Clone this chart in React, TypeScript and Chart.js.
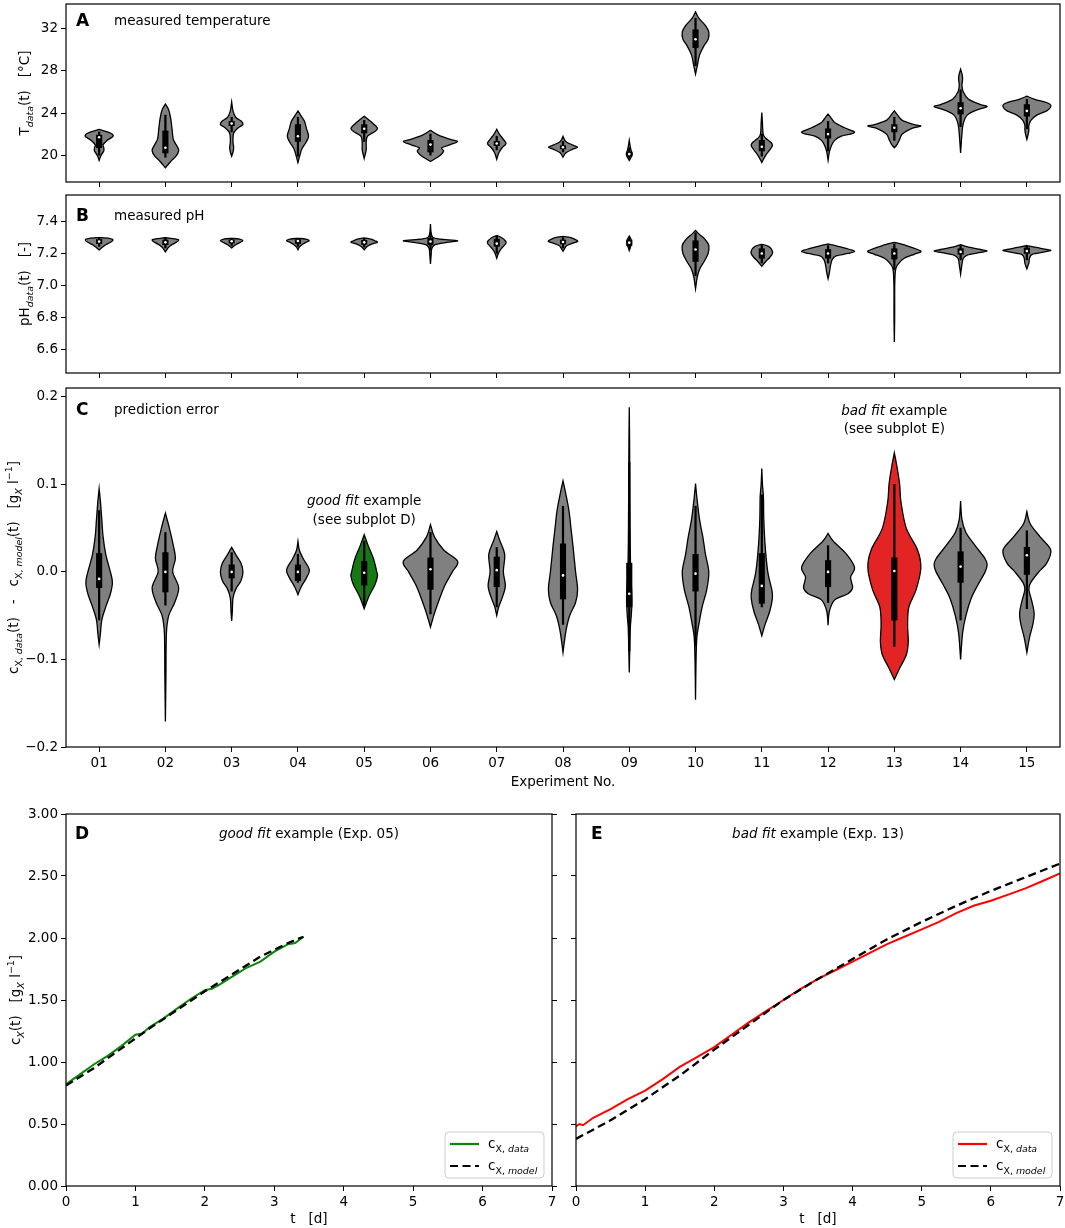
import { useEffect, useRef } from "react"
import { Chart, registerables } from "chart.js"

Chart.register(...registerables)

const FONT = '"DejaVu Sans", sans-serif'
Chart.defaults.font.family = FONT
Chart.defaults.font.size = 13.5
Chart.defaults.color = "#000"

const experiments = ["01", "02", "03", "04", "05", "06", "07", "08", "09", "10", "11", "12", "13", "14", "15"]

// panel A: measured temperature
const tempTicks = [20, 24, 28, 32]
const tempLo = [20.0, 19.8, 22.2, 19.9, 21.3, 20.0, 20.5, 20.3, 19.7, 28.5, 19.9, 20.4, 21.4, 22.7, 22.5]
const tempQ1 = [20.7, 20.2, 22.8, 21.3, 22.1, 20.3, 20.9, 20.6, 19.9, 30.2, 20.4, 21.6, 22.2, 23.9, 23.7]
const tempMed = [21.7, 20.7, 23.0, 21.8, 22.5, 21.0, 21.1, 20.75, 20.1, 31.0, 20.8, 22.0, 22.6, 24.45, 24.2]
const tempQ3 = [21.9, 22.3, 23.2, 22.9, 22.9, 21.4, 21.3, 20.9, 20.3, 31.9, 21.4, 22.5, 22.9, 25.0, 24.8]
const tempHi = [22.2, 23.8, 23.6, 23.6, 23.3, 22.0, 21.8, 21.3, 20.7, 33.0, 22.0, 23.2, 23.6, 26.2, 25.3]
// violin outlines: [value, half width in category units], top to bottom
const tempShapes = [
  [[22.45, 0], [22.1, 0.17], [21.8, 0.21], [21.4, 0.12], [21.0, 0.06], [20.7, 0.07], [20.4, 0.07], [20.0, 0.03], [19.5, 0]],
  [[24.85, 0], [24.3, 0.05], [23.5, 0.08], [22.5, 0.1], [21.5, 0.12], [20.8, 0.18], [20.4, 0.2], [19.9, 0.16], [19.4, 0.08], [18.8, 0]],
  [[25.05, 0], [24.2, 0.02], [23.6, 0.06], [23.2, 0.15], [22.9, 0.17], [22.6, 0.1], [22.1, 0.03], [21.3, 0.02], [20.7, 0.03], [20.3, 0.02], [19.9, 0]],
  [[24.2, 0], [23.7, 0.05], [23.2, 0.1], [22.5, 0.13], [21.8, 0.16], [21.2, 0.12], [20.6, 0.06], [20.0, 0.03], [19.3, 0]],
  [[23.7, 0], [23.3, 0.08], [22.8, 0.17], [22.5, 0.2], [22.2, 0.15], [21.8, 0.05], [21.2, 0.03], [20.5, 0.03], [19.7, 0]],
  [[22.35, 0], [21.9, 0.12], [21.5, 0.3], [21.3, 0.41], [21.0, 0.3], [20.7, 0.17], [20.4, 0.2], [20.0, 0.15], [19.4, 0]],
  [[22.45, 0], [22.0, 0.04], [21.5, 0.1], [21.1, 0.14], [20.7, 0.08], [20.2, 0.03], [19.6, 0]],
  [[21.8, 0], [21.3, 0.04], [20.95, 0.15], [20.75, 0.22], [20.55, 0.14], [20.2, 0.04], [19.8, 0]],
  [[21.4, 0], [20.8, 0.015], [20.4, 0.03], [20.15, 0.045], [19.9, 0.035], [19.5, 0]],
  [[33.6, 0], [33.0, 0.05], [32.3, 0.15], [31.7, 0.2], [31.0, 0.19], [30.3, 0.12], [29.5, 0.06], [28.6, 0.03], [27.7, 0]],
  [[24.05, 0], [23.0, 0.01], [22.0, 0.02], [21.6, 0.06], [21.2, 0.14], [20.9, 0.16], [20.5, 0.12], [20.0, 0.06], [19.3, 0]],
  [[23.9, 0], [23.5, 0.05], [23.1, 0.1], [22.6, 0.25], [22.15, 0.4], [21.8, 0.2], [21.4, 0.1], [20.9, 0.05], [20.3, 0.02], [19.5, 0]],
  [[24.2, 0], [23.8, 0.05], [23.3, 0.12], [22.9, 0.3], [22.75, 0.4], [22.5, 0.25], [22.0, 0.12], [21.5, 0.08], [21.0, 0.04], [20.7, 0]],
  [[28.15, 0], [27.6, 0.025], [27.2, 0.03], [26.6, 0.02], [26.0, 0.04], [25.3, 0.12], [24.8, 0.3], [24.6, 0.4], [24.3, 0.25], [23.8, 0.1], [23.0, 0.04], [22.0, 0.02], [20.2, 0]],
  [[25.6, 0], [25.3, 0.12], [24.9, 0.33], [24.6, 0.36], [24.2, 0.3], [23.8, 0.15], [23.3, 0.06], [22.8, 0.03], [22.4, 0.03], [22.0, 0.02], [21.5, 0]],
]

// panel B: measured pH
const phTicks = [6.6, 6.8, 7.0, 7.2, 7.4]
const phLo = [7.245, 7.235, 7.25, 7.245, 7.24, 7.22, 7.2, 7.235, 7.23, 7.06, 7.14, 7.14, 7.1, 7.16, 7.16]
const phQ1 = [7.262, 7.255, 7.265, 7.263, 7.257, 7.255, 7.245, 7.26, 7.25, 7.15, 7.17, 7.17, 7.165, 7.195, 7.2]
const phMed = [7.275, 7.27, 7.277, 7.278, 7.27, 7.275, 7.262, 7.272, 7.268, 7.225, 7.2, 7.2, 7.2, 7.21, 7.215]
const phQ3 = [7.288, 7.285, 7.285, 7.287, 7.283, 7.295, 7.29, 7.285, 7.285, 7.28, 7.23, 7.225, 7.23, 7.23, 7.235]
const phHi = [7.298, 7.298, 7.293, 7.293, 7.295, 7.33, 7.31, 7.3, 7.3, 7.33, 7.25, 7.25, 7.26, 7.25, 7.245]
const phShapes = [
  [[7.3, 0], [7.295, 0.15], [7.285, 0.21], [7.27, 0.17], [7.255, 0.1], [7.24, 0.05], [7.222, 0]],
  [[7.3, 0], [7.29, 0.16], [7.282, 0.2], [7.265, 0.14], [7.25, 0.08], [7.235, 0.04], [7.21, 0]],
  [[7.295, 0], [7.29, 0.12], [7.28, 0.17], [7.27, 0.13], [7.255, 0.06], [7.235, 0]],
  [[7.295, 0], [7.29, 0.12], [7.28, 0.17], [7.27, 0.12], [7.255, 0.06], [7.24, 0.02], [7.223, 0]],
  [[7.298, 0], [7.29, 0.1], [7.28, 0.16], [7.27, 0.2], [7.26, 0.12], [7.245, 0.05], [7.223, 0]],
  [[7.385, 0], [7.33, 0.01], [7.3, 0.04], [7.29, 0.15], [7.28, 0.41], [7.27, 0.25], [7.255, 0.07], [7.23, 0.02], [7.19, 0.01], [7.135, 0]],
  [[7.312, 0], [7.3, 0.07], [7.28, 0.13], [7.265, 0.14], [7.245, 0.1], [7.22, 0.05], [7.195, 0.02], [7.17, 0]],
  [[7.307, 0], [7.3, 0.12], [7.285, 0.2], [7.275, 0.22], [7.265, 0.15], [7.25, 0.06], [7.235, 0.03], [7.214, 0]],
  [[7.309, 0], [7.29, 0.025], [7.27, 0.035], [7.25, 0.025], [7.218, 0]],
  [[7.345, 0], [7.32, 0.06], [7.29, 0.14], [7.25, 0.2], [7.2, 0.19], [7.15, 0.13], [7.1, 0.06], [7.05, 0.025], [6.978, 0]],
  [[7.257, 0], [7.245, 0.1], [7.225, 0.15], [7.2, 0.16], [7.175, 0.12], [7.15, 0.06], [7.12, 0]],
  [[7.26, 0], [7.245, 0.15], [7.225, 0.33], [7.212, 0.4], [7.2, 0.3], [7.185, 0.12], [7.16, 0.06], [7.12, 0.035], [7.08, 0.02], [7.042, 0]],
  [[7.27, 0], [7.25, 0.18], [7.225, 0.35], [7.21, 0.4], [7.195, 0.3], [7.17, 0.15], [7.14, 0.07], [7.1, 0.02], [7.0, 0.006], [6.8, 0.005], [6.644, 0]],
  [[7.255, 0], [7.24, 0.12], [7.225, 0.3], [7.215, 0.4], [7.205, 0.28], [7.19, 0.1], [7.17, 0.04], [7.13, 0.02], [7.07, 0]],
  [[7.25, 0], [7.238, 0.14], [7.225, 0.3], [7.218, 0.36], [7.208, 0.25], [7.195, 0.08], [7.17, 0.04], [7.14, 0.03], [7.104, 0]],
]

// panel C: prediction error
const errTicks = [-0.2, -0.1, 0.0, 0.1, 0.2]
const errLo = [-0.055, -0.038, -0.022, -0.012, -0.038, -0.048, -0.04, -0.06, -0.09, -0.085, -0.04, -0.035, -0.085, -0.055, -0.042]
const errQ1 = [-0.018, -0.023, -0.007, -0.01, -0.015, -0.02, -0.017, -0.031, -0.04, -0.022, -0.036, -0.017, -0.055, -0.012, -0.003]
const errMed = [-0.008, 0.0, 0.0, 0.0, -0.001, 0.003, 0.002, -0.004, -0.025, -0.002, -0.016, 0.0, 0.001, 0.006, 0.019]
const errQ3 = [0.021, 0.022, 0.008, 0.008, 0.012, 0.016, 0.017, 0.032, 0.01, 0.02, 0.021, 0.013, 0.016, 0.023, 0.028]
const errHi = [0.07, 0.045, 0.022, 0.02, 0.035, 0.045, 0.028, 0.075, 0.125, 0.075, 0.088, 0.03, 0.1, 0.05, 0.047]
const errShapes = [
  [[0.095, 0], [0.08, 0.02], [0.06, 0.04], [0.04, 0.06], [0.02, 0.1], [0.0, 0.17], [-0.012, 0.2], [-0.025, 0.17], [-0.04, 0.1], [-0.055, 0.04], [-0.07, 0.02], [-0.083, 0]],
  [[0.067, 0], [0.05, 0.06], [0.03, 0.12], [0.015, 0.15], [0.0, 0.11], [-0.018, 0.2], [-0.035, 0.14], [-0.05, 0.05], [-0.07, 0.015], [-0.12, 0.008], [-0.171, 0]],
  [[0.028, 0], [0.02, 0.06], [0.01, 0.14], [0.0, 0.17], [-0.01, 0.14], [-0.02, 0.06], [-0.03, 0.02], [-0.045, 0.01], [-0.056, 0]],
  [[0.035, 0], [0.025, 0.02], [0.015, 0.08], [0.005, 0.16], [0.0, 0.17], [-0.008, 0.12], [-0.017, 0.05], [-0.026, 0]],
  [[0.0425, 0], [0.03, 0.06], [0.015, 0.14], [0.0, 0.19], [-0.005, 0.2], [-0.015, 0.16], [-0.028, 0.07], [-0.042, 0]],
  [[0.054, 0], [0.04, 0.06], [0.025, 0.2], [0.012, 0.41], [0.0, 0.33], [-0.015, 0.22], [-0.03, 0.14], [-0.045, 0.07], [-0.055, 0.03], [-0.063, 0]],
  [[0.046, 0], [0.035, 0.05], [0.02, 0.12], [0.0, 0.1], [-0.016, 0.13], [-0.03, 0.08], [-0.04, 0.03], [-0.05, 0]],
  [[0.104, 0], [0.09, 0.04], [0.07, 0.09], [0.05, 0.12], [0.03, 0.15], [0.0, 0.19], [-0.02, 0.22], [-0.035, 0.19], [-0.05, 0.1], [-0.065, 0.05], [-0.08, 0.02], [-0.092, 0]],
  [[0.188, 0], [0.15, 0.005], [0.1, 0.008], [0.05, 0.012], [0.0, 0.02], [-0.02, 0.035], [-0.035, 0.04], [-0.05, 0.03], [-0.065, 0.015], [-0.09, 0.007], [-0.115, 0]],
  [[0.101, 0], [0.085, 0.02], [0.06, 0.06], [0.04, 0.11], [0.02, 0.15], [0.0, 0.2], [-0.02, 0.17], [-0.04, 0.1], [-0.06, 0.05], [-0.075, 0.02], [-0.1, 0.008], [-0.146, 0]],
  [[0.118, 0], [0.1, 0.01], [0.085, 0.025], [0.06, 0.03], [0.03, 0.05], [0.0, 0.09], [-0.02, 0.15], [-0.03, 0.16], [-0.045, 0.12], [-0.06, 0.05], [-0.073, 0]],
  [[0.044, 0], [0.035, 0.08], [0.02, 0.28], [0.005, 0.4], [-0.006, 0.34], [-0.018, 0.37], [-0.025, 0.3], [-0.032, 0.1], [-0.045, 0.02], [-0.061, 0]],
  [[0.136, 0], [0.12, 0.04], [0.1, 0.08], [0.08, 0.1], [0.05, 0.18], [0.025, 0.35], [0.005, 0.4], [-0.02, 0.33], [-0.04, 0.22], [-0.06, 0.2], [-0.08, 0.21], [-0.095, 0.18], [-0.11, 0.08], [-0.123, 0]],
  [[0.081, 0], [0.06, 0.02], [0.045, 0.08], [0.03, 0.22], [0.015, 0.37], [0.008, 0.4], [0.0, 0.37], [-0.015, 0.26], [-0.03, 0.16], [-0.05, 0.08], [-0.07, 0.03], [-0.1, 0]],
  [[0.069, 0], [0.055, 0.05], [0.04, 0.2], [0.025, 0.36], [0.01, 0.3], [0.0, 0.18], [-0.012, 0.06], [-0.02, 0.03], [-0.035, 0.08], [-0.048, 0.11], [-0.06, 0.09], [-0.075, 0.04], [-0.092, 0]],
]
const goodFitIndex = 4
const badFitIndex = 12

// panels D and E: growth curves
const dayTicks = [0, 1, 2, 3, 4, 5, 6, 7]
const concTicks = [0, 0.5, 1, 1.5, 2, 2.5, 3]
const goodT = [0, 0.2, 0.4, 0.6, 0.8, 1.0, 1.1, 1.2, 1.4, 1.6, 1.8, 2.0, 2.1, 2.2, 2.4, 2.6, 2.8, 3.0, 3.2, 3.3, 3.42]
const goodData = [0.82, 0.9, 0.98, 1.05, 1.13, 1.22, 1.23, 1.28, 1.35, 1.43, 1.51, 1.58, 1.59, 1.62, 1.69, 1.76, 1.81, 1.89, 1.95, 1.96, 2.01]
const goodModelT = [0, 0.4, 0.8, 1.2, 1.6, 2.0, 2.4, 2.8, 3.2, 3.42]
const goodModel = [0.81, 0.95, 1.11, 1.27, 1.42, 1.57, 1.71, 1.85, 1.96, 2.01]
const badT = [0, 0.05, 0.1, 0.25, 0.5, 0.75, 1.0, 1.25, 1.5, 1.75, 2.0, 2.25, 2.5, 2.75, 3.0, 3.25, 3.5, 3.75, 4.0, 4.25, 4.5, 4.75, 5.0, 5.25, 5.5, 5.75, 6.0, 6.25, 6.5, 6.75, 7.0]
const badData = [0.48, 0.5, 0.49, 0.55, 0.62, 0.7, 0.77, 0.86, 0.96, 1.04, 1.12, 1.22, 1.32, 1.41, 1.5, 1.59, 1.67, 1.74, 1.81, 1.88, 1.95, 2.01, 2.07, 2.13, 2.2, 2.26, 2.3, 2.35, 2.4, 2.46, 2.52]
const badModelT = [0, 0.5, 1.0, 1.5, 2.0, 2.5, 3.0, 3.5, 4.0, 4.5, 5.0, 5.5, 6.0, 6.5, 7.0]
const badModel = [0.38, 0.53, 0.7, 0.89, 1.1, 1.3, 1.5, 1.67, 1.83, 1.99, 2.13, 2.26, 2.38, 2.49, 2.6]

const GRAY = "#808080"
const GREEN_FILL = "#157a15"
const RED_FILL = "#e32424"
const GREEN_LINE = "#0a870a"
const RED_LINE = "#ff0000"

type Seg = { t: string; sub?: boolean; sup?: boolean; it?: boolean; b?: boolean }

function richText(ctx: CanvasRenderingContext2D, segs: Seg[], x: number, y: number, size: number, align: "left" | "center", rotate = false) {
  const fontOf = (s: Seg) => `${s.it ? "italic " : ""}${s.b ? "bold " : ""}${s.sub || s.sup ? size * 0.7 : size}px ${FONT}`
  ctx.save()
  ctx.translate(x, y)
  if (rotate) ctx.rotate(-Math.PI / 2)
  ctx.textAlign = "left"
  ctx.textBaseline = "alphabetic"
  ctx.fillStyle = "#000"
  let total = 0
  segs.forEach((s) => {
    ctx.font = fontOf(s)
    total += ctx.measureText(s.t).width
  })
  let cx = align === "center" ? -total / 2 : 0
  segs.forEach((s) => {
    ctx.font = fontOf(s)
    const dy = s.sub ? size * 0.28 : s.sup ? -size * 0.42 : 0
    ctx.fillText(s.t, cx, size * 0.36 + dy)
    cx += ctx.measureText(s.t).width
  })
  ctx.restore()
}

// smooth one side of a violin (offsets >= 0 from centre)
function side(ctx: CanvasRenderingContext2D, pts: number[][], cx: number, sign: number) {
  const X = (o: number) => cx + sign * Math.max(0, o)
  for (let i = 0; i < pts.length - 1; i++) {
    const p0 = pts[Math.max(i - 1, 0)]
    const p1 = pts[i]
    const p2 = pts[i + 1]
    const p3 = pts[Math.min(i + 2, pts.length - 1)]
    ctx.bezierCurveTo(
      X(p1[0] + (p2[0] - p0[0]) / 6), p1[1] + (p2[1] - p0[1]) / 6,
      X(p2[0] - (p3[0] - p1[0]) / 6), p2[1] - (p3[1] - p1[1]) / 6,
      X(p2[0]), p2[1],
    )
  }
}

type PanelText = {
  label: string
  labelDx: number
  labelDy: number
  caption?: Seg[]
  title?: Seg[]
  yTitle?: Seg[]
  yTitleX?: number
  notes?: { i: number; v: number; segs: Seg[] }[]
  legendColor?: string
}

function decorPlugin(p: PanelText) {
  return {
    id: "decor",
    afterDraw(chart: any) {
      const { ctx, chartArea: a, scales } = chart
      ctx.save()
      ctx.strokeStyle = "#000"
      ctx.lineWidth = 1.2
      ctx.strokeRect(a.left, a.top, a.right - a.left, a.bottom - a.top)
      ctx.restore()
      richText(ctx, [{ t: p.label, b: true }], a.left + p.labelDx, a.top + p.labelDy, 17, "left")
      if (p.caption) richText(ctx, p.caption, a.left + 48, a.top + p.labelDy, 13.5, "left")
      if (p.title) richText(ctx, p.title, (a.left + a.right) / 2, a.top + p.labelDy, 13.5, "center")
      if (p.yTitle) richText(ctx, p.yTitle, p.yTitleX!, (a.top + a.bottom) / 2, 13.5, "center", true)
      ;(p.notes || []).forEach((n) => {
        richText(ctx, n.segs, scales.x.getPixelForValue(n.i), scales.y.getPixelForValue(n.v), 13.5, "center")
      })
      if (p.legendColor) {
        const w = 99
        const h = 46
        const x0 = a.right - 8 - w
        const y0 = a.bottom - 8 - h
        ctx.save()
        ctx.beginPath()
        ctx.roundRect(x0, y0, w, h, 4)
        ctx.fillStyle = "rgba(255,255,255,0.8)"
        ctx.fill()
        ctx.strokeStyle = "#cccccc"
        ctx.lineWidth = 1
        ctx.stroke()
        ctx.lineWidth = 2.2
        ctx.beginPath()
        ctx.moveTo(x0 + 5, y0 + 12)
        ctx.lineTo(x0 + 34, y0 + 12)
        ctx.strokeStyle = p.legendColor
        ctx.stroke()
        ctx.beginPath()
        ctx.setLineDash([8, 4.5])
        ctx.moveTo(x0 + 5, y0 + 34)
        ctx.lineTo(x0 + 34, y0 + 34)
        ctx.strokeStyle = "#000"
        ctx.stroke()
        ctx.restore()
        richText(ctx, [{ t: "c" }, { t: "X, ", sub: true }, { t: "data", sub: true, it: true }], x0 + 43, y0 + 11, 13.5, "left")
        richText(ctx, [{ t: "c" }, { t: "X, ", sub: true }, { t: "model", sub: true, it: true }], x0 + 43, y0 + 33, 13.5, "left")
      }
    },
  }
}

function violinPlugin(shapes: number[][][], fills: string[]) {
  return {
    id: "violins",
    beforeDatasetsDraw(chart: any) {
      const { ctx, scales } = chart
      const { x, y } = scales
      const unit = x.getPixelForValue(1) - x.getPixelForValue(0)
      ctx.save()
      shapes.forEach((shape, i) => {
        const cx = x.getPixelForValue(i)
        const pts = shape.map(([v, w]) => [w * unit, y.getPixelForValue(v)])
        const back = pts.slice().reverse()
        ctx.beginPath()
        ctx.moveTo(cx, pts[0][1])
        side(ctx, pts, cx, 1)
        side(ctx, back, cx, -1)
        ctx.closePath()
        ctx.fillStyle = fills[i]
        ctx.fill()
        ctx.lineWidth = 1.3
        ctx.strokeStyle = "#000"
        ctx.stroke()
      })
      ctx.restore()
    },
  }
}

const tickGrid = { display: true, drawOnChartArea: false, drawTicks: true, tickLength: 5, color: "#000", lineWidth: 1, offset: false }

// keep Chart.js from reserving extra room for the end labels
const noPad = (s: any) => {
  s.paddingTop = 0
  s.paddingBottom = 0
  s.paddingLeft = 0
  s.paddingRight = 0
}

function violinChart(
  canvas: HTMLCanvasElement,
  p: {
    shapes: number[][][]
    lo: number[]
    q1: number[]
    med: number[]
    q3: number[]
    hi: number[]
    fills: string[]
    min: number
    max: number
    ticks: number[]
    fmt: (v: number) => string
    showX: boolean
    xHeight: number
    text: PanelText
  },
) {
  return new Chart(canvas, {
    type: "bar",
    data: {
      labels: experiments,
      datasets: [
        { type: "line", data: p.med, showLine: false, pointRadius: 1.3, pointBackgroundColor: "#fff", pointBorderWidth: 0, order: 0 } as any,
        { type: "bar", data: p.q1.map((v, i) => [v, p.q3[i]]), backgroundColor: "#000", barThickness: 5.5, grouped: false, borderWidth: 0, order: 1 } as any,
        { type: "bar", data: p.lo.map((v, i) => [v, p.hi[i]]), backgroundColor: "#000", barThickness: 1.6, grouped: false, borderWidth: 0, order: 2 } as any,
      ],
    },
    options: {
      responsive: false,
      animation: false,
      events: [],
      layout: { padding: { top: 2, right: 5, left: 0, bottom: 0 } },
      plugins: { legend: { display: false }, tooltip: { enabled: false } },
      scales: {
        x: {
          type: "category",
          offset: true,
          grid: tickGrid,
          border: { display: false },
          ticks: { display: p.showX, autoSkip: false, maxRotation: 0, padding: 3 },
          title: { display: p.showX, text: "Experiment No.", padding: { top: 0, bottom: 0 } },
          afterFit: (s: any) => {
            s.height = p.xHeight
            noPad(s)
          },
        },
        y: {
          type: "linear",
          min: p.min,
          max: p.max,
          grid: tickGrid,
          border: { display: false },
          afterBuildTicks: (s: any) => {
            s.ticks = p.ticks.map((v) => ({ value: v }))
          },
          ticks: { padding: 3, callback: (v: any) => p.fmt(Number(v)) },
          afterFit: (s: any) => {
            s.width = 66
            noPad(s)
          },
        },
      },
    } as any,
    plugins: [violinPlugin(p.shapes, p.fills), decorPlugin(p.text)],
  })
}

function lineChart(
  canvas: HTMLCanvasElement,
  p: {
    t: number[]
    data: number[]
    modelT: number[]
    model: number[]
    color: string
    showY: boolean
    yWidth: number
    rightAxis: boolean
    padRight: number
    text: PanelText
  },
) {
  const yTicks = (s: any) => {
    s.ticks = concTicks.map((v) => ({ value: v }))
  }
  const scales: any = {
    x: {
      type: "linear",
      min: 0,
      max: 7,
      grid: tickGrid,
      border: { display: false },
      afterBuildTicks: (s: any) => {
        s.ticks = dayTicks.map((v) => ({ value: v }))
      },
      ticks: { padding: 3, maxRotation: 0, callback: (v: any) => String(v) },
      title: { display: true, text: "t   [d]", padding: { top: 0, bottom: 0 } },
      afterFit: (s: any) => {
        s.height = 42
        noPad(s)
      },
    },
    y: {
      type: "linear",
      min: 0,
      max: 3,
      grid: tickGrid,
      border: { display: false },
      afterBuildTicks: yTicks,
      ticks: { display: p.showY, padding: 3, callback: (v: any) => Number(v).toFixed(2) },
      afterFit: (s: any) => {
        s.width = p.yWidth
        noPad(s)
      },
    },
  }
  if (p.rightAxis) {
    scales.y2 = {
      type: "linear",
      position: "right",
      min: 0,
      max: 3,
      grid: tickGrid,
      border: { display: false },
      afterBuildTicks: yTicks,
      ticks: { display: false },
      afterFit: (s: any) => {
        s.width = 8
        noPad(s)
      },
    }
  }
  return new Chart(canvas, {
    type: "line",
    data: {
      datasets: [
        { data: p.modelT.map((t, i) => ({ x: t, y: p.model[i] })), borderColor: "#000", borderWidth: 2.3, borderDash: [8, 4.5], pointRadius: 0, order: 0 },
        { data: p.t.map((t, i) => ({ x: t, y: p.data[i] })), borderColor: p.color, borderWidth: 2, pointRadius: 0, order: 1 },
      ],
    },
    options: {
      responsive: false,
      animation: false,
      events: [],
      layout: { padding: { top: 14, right: p.padRight, left: 0, bottom: 0 } },
      plugins: { legend: { display: false }, tooltip: { enabled: false } },
      scales,
    } as any,
    plugins: [decorPlugin(p.text)],
  })
}

const makeTemp = (c: HTMLCanvasElement) =>
  violinChart(c, {
    shapes: tempShapes,
    lo: tempLo,
    q1: tempQ1,
    med: tempMed,
    q3: tempQ3,
    hi: tempHi,
    fills: experiments.map(() => GRAY),
    min: 17.45,
    max: 34.35,
    ticks: tempTicks,
    fmt: (v) => String(v),
    showX: false,
    xHeight: 10,
    text: {
      label: "A",
      labelDx: 10,
      labelDy: 16,
      caption: [{ t: "measured temperature" }],
      yTitle: [{ t: "T" }, { t: "data", sub: true, it: true }, { t: "(t)   [°C]" }],
      yTitleX: 24,
    },
  })

const makePh = (c: HTMLCanvasElement) =>
  violinChart(c, {
    shapes: phShapes,
    lo: phLo,
    q1: phQ1,
    med: phMed,
    q3: phQ3,
    hi: phHi,
    fills: experiments.map(() => GRAY),
    min: 6.45,
    max: 7.567,
    ticks: phTicks,
    fmt: (v) => v.toFixed(1),
    showX: false,
    xHeight: 10,
    text: {
      label: "B",
      labelDx: 10,
      labelDy: 20,
      caption: [{ t: "measured pH" }],
      yTitle: [{ t: "pH" }, { t: "data", sub: true, it: true }, { t: "(t)   [-]" }],
      yTitleX: 24,
    },
  })

const makeErr = (c: HTMLCanvasElement) =>
  violinChart(c, {
    shapes: errShapes,
    lo: errLo,
    q1: errQ1,
    med: errMed,
    q3: errQ3,
    hi: errHi,
    fills: experiments.map((_, i) => (i === goodFitIndex ? GREEN_FILL : i === badFitIndex ? RED_FILL : GRAY)),
    min: -0.2,
    max: 0.21,
    ticks: errTicks,
    fmt: (v) => (v < -1e-9 ? "\u2212" : "") + Math.abs(v).toFixed(1),
    showX: true,
    xHeight: 44,
    text: {
      label: "C",
      labelDx: 10,
      labelDy: 21,
      caption: [{ t: "prediction error" }],
      yTitle: [
        { t: "c" },
        { t: "X, ", sub: true },
        { t: "data", sub: true, it: true },
        { t: "(t)   -   c" },
        { t: "X, ", sub: true },
        { t: "model", sub: true, it: true },
        { t: "(t)   [g" },
        { t: "X", sub: true, it: true },
        { t: " l" },
        { t: "\u22121", sup: true },
        { t: "]" },
      ],
      yTitleX: 13,
      notes: [
        { i: goodFitIndex, v: 0.082, segs: [{ t: "good fit", it: true }, { t: " example" }] },
        { i: goodFitIndex, v: 0.06, segs: [{ t: "(see subplot D)" }] },
        { i: badFitIndex, v: 0.185, segs: [{ t: "bad fit", it: true }, { t: " example" }] },
        { i: badFitIndex, v: 0.164, segs: [{ t: "(see subplot E)" }] },
      ],
    },
  })

const makeGood = (c: HTMLCanvasElement) =>
  lineChart(c, {
    t: goodT,
    data: goodData,
    modelT: goodModelT,
    model: goodModel,
    color: GREEN_LINE,
    showY: true,
    yWidth: 66,
    rightAxis: true,
    padRight: 0,
    text: {
      label: "D",
      labelDx: 9,
      labelDy: 19,
      title: [{ t: "good fit", it: true }, { t: " example (Exp. 05)" }],
      yTitle: [{ t: "c" }, { t: "X", sub: true, it: true }, { t: "(t)   [g" }, { t: "X", sub: true, it: true }, { t: " l" }, { t: "\u22121", sup: true }, { t: "]" }],
      yTitleX: 15,
      legendColor: GREEN_LINE,
    },
  })

const makeBad = (c: HTMLCanvasElement) =>
  lineChart(c, {
    t: badT,
    data: badData,
    modelT: badModelT,
    model: badModel,
    color: RED_LINE,
    showY: false,
    yWidth: 10,
    rightAxis: false,
    padRight: 5,
    text: {
      label: "E",
      labelDx: 15,
      labelDy: 19,
      title: [{ t: "bad fit", it: true }, { t: " example (Exp. 13)" }],
      legendColor: RED_LINE,
    },
  })

function Panel({ left, top, width, height, make }: { left: number; top: number; width: number; height: number; make: (c: HTMLCanvasElement) => Chart }) {
  const ref = useRef<HTMLCanvasElement>(null)

  useEffect(() => {
    if (!ref.current) return
    const chart = make(ref.current)
    return () => {
      chart.destroy()
    }
  }, [make])

  return (
    <div style={{ position: "absolute", left, top, width, height }}>
      <canvas ref={ref} width={width} height={height} style={{ width, height, display: "block" }} />
    </div>
  )
}

export default function App() {
  return (
    <div style={{ position: "absolute", left: 0, top: 0, width: 1065, height: 1228, background: "#fff", overflow: "hidden" }}>
      <Panel left={0} top={0} width={1065} height={192} make={makeTemp} />
      <Panel left={0} top={191} width={1065} height={192} make={makePh} />
      <Panel left={0} top={384} width={1065} height={407} make={makeErr} />
      <Panel left={0} top={800} width={560} height={428} make={makeGood} />
      <Panel left={566} top={800} width={499} height={428} make={makeBad} />
    </div>
  )
}
